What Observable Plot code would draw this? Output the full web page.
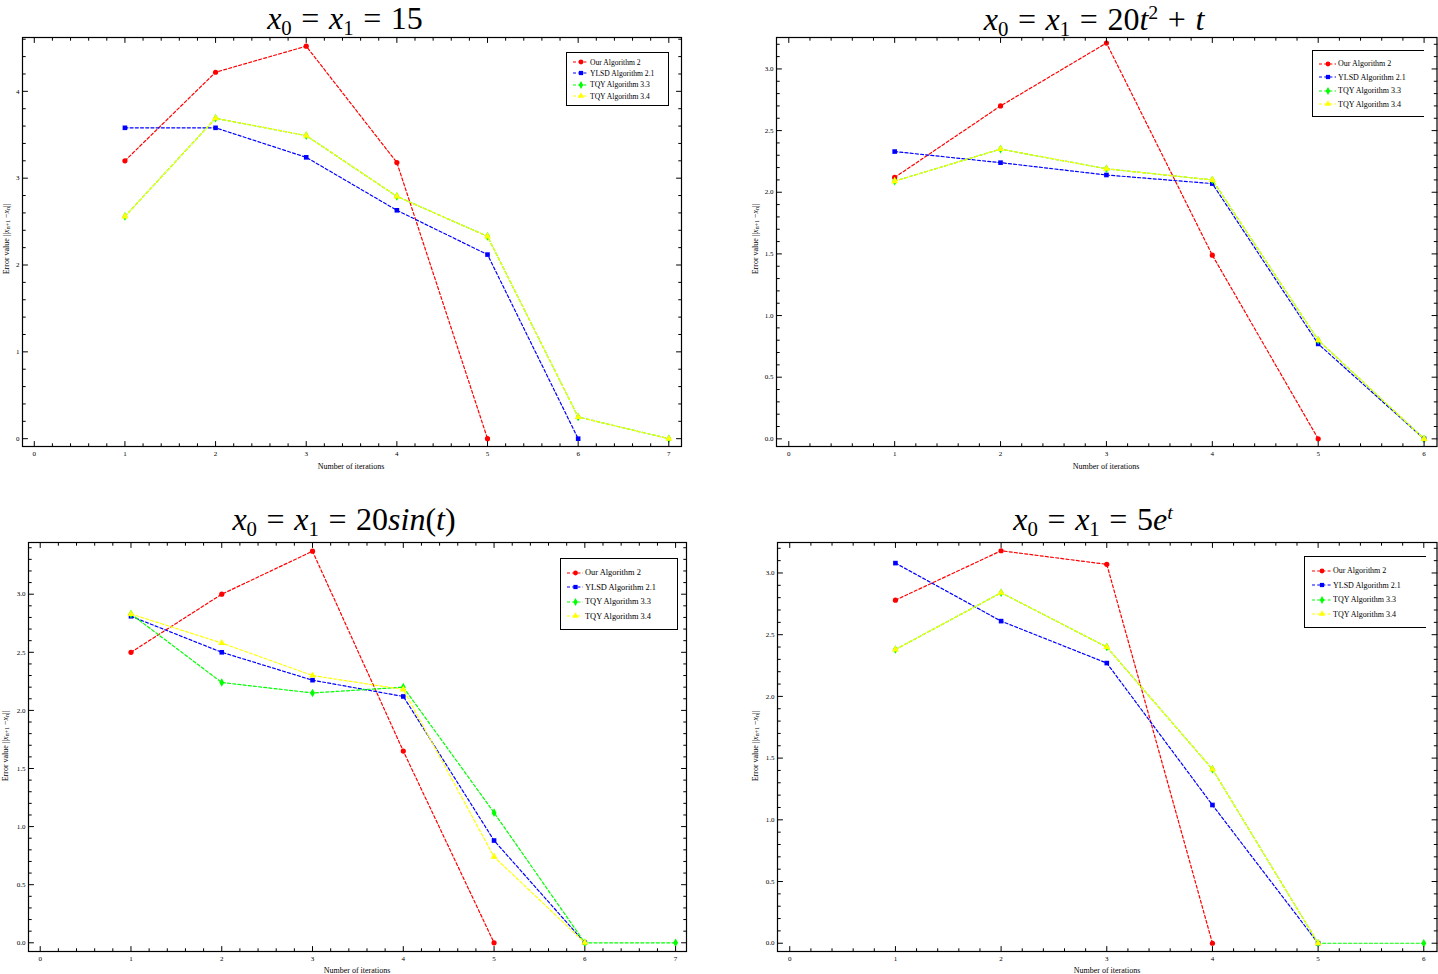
<!DOCTYPE html>
<html><head><meta charset="utf-8">
<script src="https://cdn.jsdelivr.net/npm/d3@7"></script>
<script src="https://cdn.jsdelivr.net/npm/@observablehq/plot@0.6"></script>
<style>
body{margin:0;background:#fff;}
#root{position:relative;width:1438px;height:974px;overflow:hidden;font-family:"Liberation Serif","Times New Roman",serif;background:#fff;}
.panel{position:absolute;}
.title{position:absolute;font-family:"Liberation Serif","DejaVu Serif",serif;font-size:32px;white-space:nowrap;transform:translateX(-50%);line-height:34px;}
.title sub{font-size:0.65em;vertical-align:-0.3em;line-height:0;font-style:normal;}
.title sup{font-size:0.62em;vertical-align:0.55em;line-height:0;}
.title .eq{margin:0 0.3em;}
.xlab{position:absolute;font-size:8px;transform:translate(-50%,-50%);white-space:nowrap;}
.ylab{position:absolute;font-size:8px;white-space:nowrap;transform:translate(-50%,-50%) rotate(-90deg);}
.ylab sub{font-size:0.75em;vertical-align:-0.2em;line-height:0;}
.legend{position:absolute;background:#fff;border:1px solid #000;box-sizing:border-box;}
.legend .row{display:flex;align-items:center;white-space:nowrap;}
.legend svg{display:block;flex:none;}
</style></head><body><div id="root"></div><script>
// ---- data ----
const seriesNames = ["Our Algorithm 2", "YLSD Algorithm 2.1", "TQY Algorithm 3.3", "TQY Algorithm 3.4"];
const seriesColors = ["#ff0000", "#0000ff", "#00ff00", "#ffff00"];
const seriesSymbols = ["circle", "square", "diamond", "triangle"];
const iterations = [1, 2, 3, 4, 5, 6, 7];

// panel 1: x0 = x1 = 15
const p1Our   = [3.20, 4.22, 4.52, 3.18, 0];
const p1Ylsd  = [3.58, 3.58, 3.24, 2.63, 2.12, 0];
const p1Tqy33 = [2.56, 3.69, 3.49, 2.79, 2.33, 0.25, 0];
const p1Tqy34 = [2.56, 3.69, 3.49, 2.79, 2.33, 0.25, 0];
const p1XTicks = [0, 1, 2, 3, 4, 5, 6, 7];
const p1YTicks = [0, 1, 2, 3, 4];

// panel 2: x0 = x1 = 20t^2 + t
const p2Our   = [2.12, 2.70, 3.21, 1.49, 0];
const p2Ylsd  = [2.33, 2.24, 2.14, 2.07, 0.77, 0];
const p2Tqy33 = [2.09, 2.35, 2.19, 2.10, 0.80, 0];
const p2Tqy34 = [2.09, 2.35, 2.19, 2.10, 0.80, 0];
const p2XTicks = [0, 1, 2, 3, 4, 5, 6];
const p2YTicks = [0, 0.5, 1, 1.5, 2, 2.5, 3];

// panel 3: x0 = x1 = 20 sin(t)
const p3Our   = [2.50, 3.00, 3.37, 1.65, 0];
const p3Ylsd  = [2.81, 2.50, 2.26, 2.12, 0.88, 0];
const p3Tqy33 = [2.83, 2.24, 2.15, 2.20, 1.12, 0, 0];
const p3Tqy34 = [2.83, 2.58, 2.30, 2.18, 0.74, 0];
const p3XTicks = [0, 1, 2, 3, 4, 5, 6, 7];
const p3YTicks = [0, 0.5, 1, 1.5, 2, 2.5, 3];

// panel 4: x0 = x1 = 5e^t
const p4Our   = [2.78, 3.18, 3.07, 0];
const p4Ylsd  = [3.08, 2.61, 2.27, 1.12, 0];
const p4Tqy33 = [2.38, 2.84, 2.40, 1.41, 0, 0];
const p4Tqy34 = [2.38, 2.84, 2.40, 1.41, 0];
const p4XTicks = [0, 1, 2, 3, 4, 5, 6];
const p4YTicks = [0, 0.5, 1, 1.5, 2, 2.5, 3];

const xLabelText = "Number of iterations";

// ---- layout ----
const root = document.getElementById("root");
const tickShape = {draw(ctx, l) { ctx.moveTo(0, 0); ctx.lineTo(0, -l); }};

function minorTicks(domain, step, majors) {
  const out = [];
  const n0 = Math.ceil(domain[0] / step - 1e-9), n1 = Math.floor(domain[1] / step + 1e-9);
  for (let n = n0; n <= n1; n++) {
    const v = +(n * step).toFixed(6);
    if (!majors.some(m => Math.abs(m - v) < 1e-6)) out.push(v);
  }
  return out;
}

function makePanel(cfg) {
  const [x0, x1] = cfg.xDomain, [y0, y1] = cfg.yDomain;
  const marks = [];
  cfg.series.forEach((vals, s) => {
    const d = vals.map((v, k) => ({x: iterations[k], y: v}));
    marks.push(Plot.line(d, {x: "x", y: "y", stroke: seriesColors[s], strokeWidth: 1.2, strokeDasharray: "3,2.2"}));
    marks.push(Plot.dot(d, {x: "x", y: "y", fill: seriesColors[s], symbol: seriesSymbols[s], r: 2.6, stroke: "none"}));
  });
  const xMinor = minorTicks(cfg.xDomain, 0.2, cfg.xTicks);
  const yMinor = minorTicks(cfg.yDomain, cfg.yMinorStep, cfg.yTicks);
  const vt = (data, x, y, rotate, length) => Plot.vector(data, {x, y, rotate, length, anchor: "start", shape: tickShape, stroke: "black", strokeWidth: 1});
  marks.push(vt(cfg.xTicks, d => d, () => y0, 0, 5));
  marks.push(vt(cfg.xTicks, d => d, () => y1, 180, 5));
  marks.push(vt(xMinor, d => d, () => y0, 0, 2.8));
  marks.push(vt(xMinor, d => d, () => y1, 180, 2.8));
  marks.push(vt(cfg.yTicks, () => x0, d => d, 90, 5));
  marks.push(vt(cfg.yTicks, () => x1, d => d, 270, 5));
  marks.push(vt(yMinor, () => x0, d => d, 90, 2.8));
  marks.push(vt(yMinor, () => x1, d => d, 270, 2.8));
  marks.push(Plot.text(cfg.xTicks, {x: d => d, y: () => y0, dy: 7, text: d => String(d), fill: "black", fontSize: 7}));
  marks.push(Plot.text(cfg.yTicks, {x: () => x0, y: d => d, dx: -3, textAnchor: "end", text: cfg.yFmt, fill: "black", fontSize: 7}));
  marks.push(Plot.frame({stroke: "black", strokeWidth: 1.2}));

  const svg = Plot.plot({
    width: 719, height: 487,
    marginLeft: cfg.m[0], marginRight: cfg.m[1], marginTop: cfg.m[2], marginBottom: cfg.m[3],
    x: {domain: cfg.xDomain, axis: null},
    y: {domain: cfg.yDomain, axis: null},
    style: {fontFamily: '"Liberation Serif", serif', fontSize: "7px", background: "transparent", overflow: "visible"},
    marks
  });
  const wrap = document.createElement("div");
  wrap.className = "panel";
  wrap.style.left = cfg.pos[0] + "px";
  wrap.style.top = cfg.pos[1] + "px";
  wrap.appendChild(svg);
  root.appendChild(wrap);

  // title
  const t = document.createElement("div");
  t.className = "title";
  t.style.left = cfg.titlePos[0] + "px";
  t.style.top = cfg.titlePos[1] + "px";
  t.innerHTML = cfg.titleHTML;
  root.appendChild(t);

  // axis labels
  const xl = document.createElement("div");
  xl.className = "xlab";
  xl.style.left = cfg.xLabPos[0] + "px";
  xl.style.top = cfg.xLabPos[1] + "px";
  xl.textContent = xLabelText;
  root.appendChild(xl);
  const yl = document.createElement("div");
  yl.className = "ylab";
  yl.style.left = cfg.yLabPos[0] + "px";
  yl.style.top = cfg.yLabPos[1] + "px";
  yl.innerHTML = "Error value ||<i>x</i><sub>n+1</sub> \u2212<i>x</i><sub>n</sub>||";
  root.appendChild(yl);

  // legend
  const L = cfg.legend;
  const lg = document.createElement("div");
  lg.className = "legend";
  lg.style.left = L.left + "px"; lg.style.top = L.top + "px";
  lg.style.width = L.width + "px"; lg.style.height = L.height + "px";
  lg.style.paddingTop = L.padTop + "px";
  lg.style.paddingLeft = L.padLeft + "px";
  lg.style.fontSize = L.fontSize + "px";
  if (L.openRight) lg.style.borderRight = "none";
  const symMap = {circle: d3.symbolCircle, square: d3.symbolSquare, diamond: d3.symbolDiamond, triangle: d3.symbolTriangle};
  seriesNames.forEach((name, s) => {
    const row = document.createElement("div");
    row.className = "row";
    row.style.height = L.rowH + "px";
    const sw = d3.create("svg").attr("width", L.swW).attr("height", 8);
    sw.append("line").attr("x1", 0).attr("x2", L.swW - 1).attr("y1", 4).attr("y2", 4)
      .attr("stroke", seriesColors[s]).attr("stroke-width", 1.2).attr("stroke-dasharray", "3,2.2");
    sw.append("path").attr("d", d3.symbol(symMap[seriesSymbols[s]], 18)())
      .attr("transform", `translate(${L.swW / 2},4)`).attr("fill", seriesColors[s]);
    row.appendChild(sw.node());
    const sp = document.createElement("span");
    sp.textContent = name;
    sp.style.marginLeft = "1px";
    row.appendChild(sp);
    lg.appendChild(row);
  });
  root.appendChild(lg);
}

const fmtInt = d => String(d);
const fmt1 = d => d.toFixed(1);

makePanel({
  series: [p1Our, p1Ylsd, p1Tqy33, p1Tqy34], xTicks: p1XTicks, yTicks: p1YTicks, yFmt: fmtInt, yMinorStep: 0.2,
  xDomain: [-0.13, 7.14], yDomain: [-0.09, 4.62], m: [22, 38, 37, 41], pos: [0, 0],
  titlePos: [345, 1], titleHTML: '<i>x</i><sub>0</sub><span class="eq">=</span><i>x</i><sub>1</sub><span class="eq">=</span>15',
  xLabPos: [351, 466], yLabPos: [6, 239],
  legend: {left: 566, top: 52, width: 103, height: 54, padTop: 3.5, padLeft: 6, rowH: 11.3, swW: 16, fontSize: 7.6}
});
makePanel({
  series: [p2Our, p2Ylsd, p2Tqy33, p2Tqy34], xTicks: p2XTicks, yTicks: p2YTicks, yFmt: fmt1, yMinorStep: 0.1,
  xDomain: [-0.116, 6.122], yDomain: [-0.062, 3.255], m: [57, 1.5, 37, 41], pos: [719, 0],
  titlePos: [1094, 2], titleHTML: '<i>x</i><sub>0</sub><span class="eq">=</span><i>x</i><sub>1</sub><span class="eq">=</span>20<i>t</i><sup>2</sup><span class="eq">+</span><i>t</i>',
  xLabPos: [1106, 466], yLabPos: [755, 239],
  legend: {left: 1312, top: 50, width: 112, height: 67, padTop: 6.3, padLeft: 6, rowH: 13.4, swW: 18, fontSize: 8, openRight: true}
});
makePanel({
  series: [p3Our, p3Ylsd, p3Tqy33, p3Tqy34], xTicks: p3XTicks, yTicks: p3YTicks, yFmt: fmt1, yMinorStep: 0.1,
  xDomain: [-0.129, 7.12], yDomain: [-0.075, 3.445], m: [28, 33, 55, 23], pos: [0, 487],
  titlePos: [344, 502], titleHTML: '<i>x</i><sub>0</sub><span class="eq">=</span><i>x</i><sub>1</sub><span class="eq">=</span>20<i>sin</i>(<i>t</i>)',
  xLabPos: [357, 970], yLabPos: [5, 746],
  legend: {left: 560, top: 558, width: 118, height: 72, padTop: 6.8, padLeft: 6, rowH: 14.4, swW: 17, fontSize: 8.4}
});
makePanel({
  series: [p4Our, p4Ylsd, p4Tqy33, p4Tqy34], xTicks: p4XTicks, yTicks: p4YTicks, yFmt: fmt1, yMinorStep: 0.1,
  xDomain: [-0.116, 6.125], yDomain: [-0.067, 3.247], m: [58, 1.5, 55, 23], pos: [719, 487],
  titlePos: [1093, 502], titleHTML: '<i>x</i><sub>0</sub><span class="eq">=</span><i>x</i><sub>1</sub><span class="eq">=</span>5<i>e</i><sup><i>t</i></sup>',
  xLabPos: [1107, 970], yLabPos: [755, 746],
  legend: {left: 1304, top: 556, width: 122, height: 72, padTop: 6.8, padLeft: 7, rowH: 14.4, swW: 20, fontSize: 8, openRight: true}
});
</script></body></html>
